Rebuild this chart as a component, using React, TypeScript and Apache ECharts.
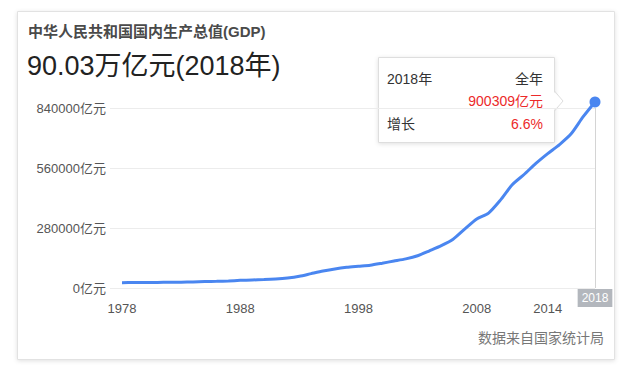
import React, { useEffect, useRef } from "react";
import * as echarts from "echarts";

const years: string[] = [
  "1978", "1979", "1980", "1981", "1982", "1983", "1984", "1985", "1986", "1987",
  "1988", "1989", "1990", "1991", "1992", "1993", "1994", "1995", "1996", "1997",
  "1998", "1999", "2000", "2001", "2002", "2003", "2004", "2005", "2006", "2007",
  "2008", "2009", "2010", "2011", "2012", "2013", "2014", "2015", "2016", "2017",
  "2018",
];

const gdp: number[] = [
  3679, 4101, 4588, 4936, 5373, 6021, 7279, 9099, 10376, 12175,
  15180, 17180, 18873, 22006, 27195, 35673, 48638, 61340, 71814, 79715,
  85196, 90564, 100280, 110863, 121717, 137422, 161840, 187319, 219439, 270232,
  319516, 349081, 413030, 489301, 540367, 595244, 643974, 689052, 743586, 827122,
  900309,
];

const shownYears: string[] = ["1978", "1988", "1998", "2008", "2014"];
const yTicks: number[] = [0, 280000, 560000, 840000];

const titleText = "中华人民共和国国内生产总值(GDP)";
const headline = "90.03万亿元(2018年)";
const sourceText = "数据来自国家统计局";
const tipYear = "2018年";
const tipPeriod = "全年";
const tipValue = "900309亿元";
const tipGrowthLabel = "增长";
const tipGrowth = "6.6%";

const FONT = '"Liberation Sans", Arial, "Noto Sans CJK SC", sans-serif';
const BLUE = "#4a86f0";
const RED = "#ec2a2a";

export default function App() {
  const ref = useRef<HTMLDivElement>(null);

  useEffect(() => {
    if (!ref.current) return;
    const chart = echarts.init(ref.current, undefined, { renderer: "svg" });
    const lastIdx = gdp.length - 1;

    chart.setOption({
      animation: false,
      textStyle: { fontFamily: FONT },
      grid: [
        { left: 110, right: 45, top: 108, height: 180 },
        { left: 122, right: 45, top: 108, height: 180 },
      ],
      xAxis: [
        { type: "value", gridIndex: 0, show: false, min: 0, max: 1 },
        {
          type: "category",
          gridIndex: 1,
          data: years,
          boundaryGap: false,
          axisLine: { show: false },
          axisTick: { show: false },
          splitLine: { show: false },
          axisLabel: {
            interval: (_i: number, v: string) => shownYears.includes(v),
            color: "#555",
            fontSize: 13,
            margin: 14,
            fontFamily: FONT,
          },
          axisPointer: {
            show: true,
            value: lastIdx,
            status: "show",
            triggerTooltip: false,
            type: "line",
            lineStyle: { color: "#d4d4d4", width: 1, type: "solid" },
            label: {
              show: true,
              backgroundColor: "#b3b7bd",
              color: "#fff",
              fontSize: 12,
              fontFamily: FONT,
              padding: [3, 4, 3, 4],
              margin: 1,
              borderRadius: 0,
              shadowBlur: 0,
            },
          },
        },
      ],
      yAxis: [
        {
          type: "value",
          gridIndex: 0,
          min: yTicks[0],
          max: yTicks[yTicks.length - 1],
          interval: yTicks[1] - yTicks[0],
          axisLine: { show: false },
          axisTick: { show: false },
          axisLabel: {
            formatter: (v: number) => `${v}亿元`,
            color: "#555",
            fontSize: 13,
            margin: 4,
            fontFamily: FONT,
          },
          splitLine: { lineStyle: { color: "#ececec", width: 1 } },
        },
        {
          type: "value",
          gridIndex: 1,
          min: -22800,
          max: 870300,
          show: false,
          splitLine: { show: false },
        },
      ],
      series: [
        {
          type: "line",
          xAxisIndex: 1,
          yAxisIndex: 1,
          data: gdp,
          symbol: "none",
          smooth: 0.25,
          clip: false,
          lineStyle: { color: BLUE, width: 3 },
          itemStyle: { color: BLUE },
          z: 5,
        },
        {
          type: "scatter",
          xAxisIndex: 1,
          yAxisIndex: 1,
          data: [[lastIdx, gdp[lastIdx]]],
          symbol: "circle",
          symbolSize: 11,
          clip: false,
          itemStyle: { color: BLUE, opacity: 1 },
          z: 6,
        },
      ],
      graphic: [
        {
          type: "rect",
          z: -10,
          silent: true,
          shape: { x: 17.5, y: 11.5, width: 597, height: 348 },
          style: {
            fill: "#fff",
            stroke: "#e2e2e2",
            lineWidth: 1,
            shadowBlur: 4,
            shadowColor: "rgba(0,0,0,0.12)",
            shadowOffsetY: 1,
          },
        },
        {
          type: "text",
          left: 28,
          top: 24,
          style: {
            text: titleText,
            font: `bold 15px ${FONT}`,
            fill: "#4a4a4a",
          },
        },
        {
          type: "text",
          left: 27,
          top: 52,
          style: {
            text: headline,
            font: `27px ${FONT}`,
            fill: "#222",
          },
        },
        {
          type: "text",
          x: 604,
          y: 338,
          style: {
            text: sourceText,
            font: `14px ${FONT}`,
            fill: "#777",
            align: "right",
            verticalAlign: "middle",
          },
        },
        {
          type: "group",
          z: 100,
          children: [
            {
              type: "rect",
              shape: { x: 378.5, y: 57.5, width: 176, height: 85 },
              style: {
                fill: "#fff",
                stroke: "#dedede",
                lineWidth: 1,
                shadowBlur: 4,
                shadowColor: "rgba(0,0,0,0.12)",
                shadowOffsetY: 1,
              },
            },
            {
              type: "polygon",
              shape: { points: [[553, 91], [563, 101], [553, 111]] },
              style: { fill: "#fff" },
            },
            {
              type: "polyline",
              shape: { points: [[554.5, 91], [563, 101], [554.5, 111]] },
              style: { stroke: "#dedede", lineWidth: 1, fill: null },
            },
            {
              type: "text",
              x: 387,
              y: 79,
              style: { text: tipYear, font: `14px ${FONT}`, fill: "#333", verticalAlign: "middle" },
            },
            {
              type: "text",
              x: 543,
              y: 79,
              style: { text: tipPeriod, font: `14px ${FONT}`, fill: "#333", align: "right", verticalAlign: "middle" },
            },
            {
              type: "text",
              x: 543,
              y: 101,
              style: { text: tipValue, font: `14px ${FONT}`, fill: RED, align: "right", verticalAlign: "middle" },
            },
            {
              type: "text",
              x: 387,
              y: 124,
              style: { text: tipGrowthLabel, font: `14px ${FONT}`, fill: "#333", verticalAlign: "middle" },
            },
            {
              type: "text",
              x: 543,
              y: 124,
              style: { text: tipGrowth, font: `14px ${FONT}`, fill: RED, align: "right", verticalAlign: "middle" },
            },
          ],
        },
      ],
    });

    return () => chart.dispose();
  }, []);

  return (
    <div
      ref={ref}
      style={{ position: "absolute", left: 0, top: 0, width: 640, height: 370, background: "#fff" }}
    />
  );
}
